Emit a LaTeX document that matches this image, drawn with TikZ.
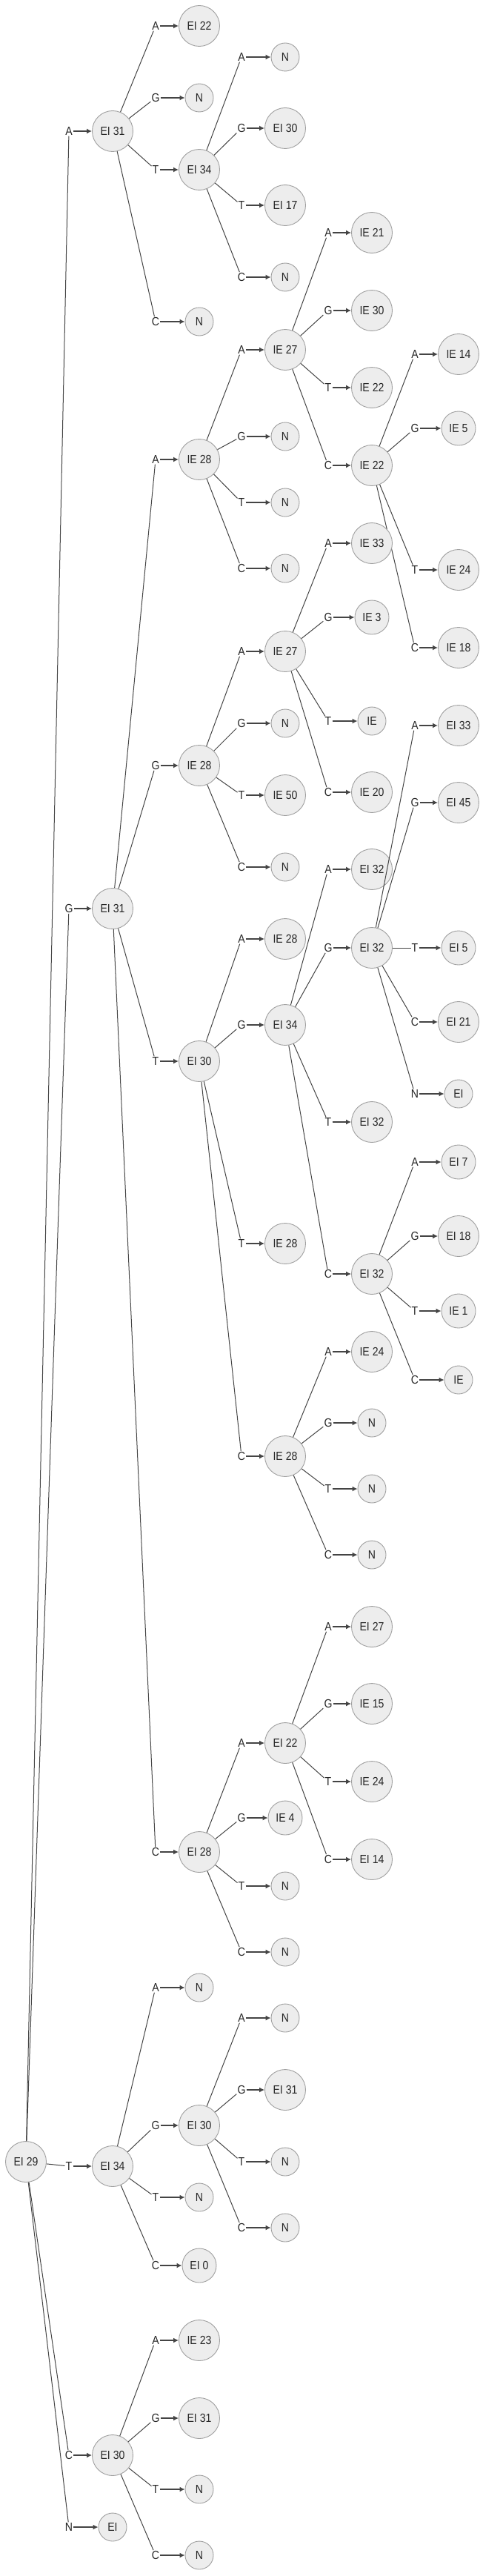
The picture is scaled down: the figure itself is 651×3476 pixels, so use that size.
\documentclass[tikz,border=0pt]{standalone}
\usepackage{fontspec}
\setmainfont{Liberation Sans}[FakeStretch=0.88]
\usetikzlibrary{arrows.meta}
\definecolor{nodefill}{HTML}{EDEDED}
\definecolor{nodeline}{HTML}{A0A0A0}
\definecolor{edgecol}{HTML}{444444}
\newcommand{\lvlx}[1]{\ifcase#1 0\or93\or210\or326\or443\or560\fi}
\newcommand{\lvcx}[1]{\ifcase#1 0\or152\or269\or385\or502\or619\fi}
% \br{parent}{name}{letter}{level}{y}{style}{text}
\newcommand{\br}[7]{%
  \edef\tmpLX{\lvlx{#4}}\edef\tmpCX{\lvcx{#4}}%
  \node[lab] (l#2) at (\tmpLX,#5) {#3};
  \node[#6] (#2) at (\tmpCX,#5) {#7};
  \draw[ln] (#1) -- (l#2);
  \draw[arr] (l#2) -- (#2);
}
\begin{document}
\begin{tikzpicture}[x=1pt,y=-1pt,
  font=\fontsize{16}{18}\selectfont,
  big/.style={circle,draw=nodeline,fill=nodefill,line width=0.9pt,inner sep=0pt,minimum size=55pt,text=black!85},
  mid/.style={big,minimum size=46pt},
  sml/.style={big,minimum size=38pt},
  lab/.style={inner sep=1pt,text=black!85},
  ln/.style={draw=edgecol,line width=1pt},
  arr/.style={draw=edgecol,line width=1.4pt,-{Latex[length=7pt,width=7pt]}}]
\useasboundingbox (0,0) rectangle (651,3476);
\node[big] (n) at (35,2917) {EI 29};
% level 1
\br{n}{nA}{A}{1}{177}{big}{EI 31}
\br{n}{nG}{G}{1}{1226}{big}{EI 31}
\br{n}{nT}{T}{1}{2923}{big}{EI 34}
\br{n}{nC}{C}{1}{3313}{big}{EI 30}
\br{n}{nN}{N}{1}{3410}{sml}{EI}
% under nA
\br{nA}{nAA}{A}{2}{35}{big}{EI 22}
\br{nA}{nAG}{G}{2}{132}{sml}{N}
\br{nA}{nAT}{T}{2}{229}{big}{EI 34}
\br{nA}{nAC}{C}{2}{434}{sml}{N}
\br{nAT}{nATA}{A}{3}{77}{sml}{N}
\br{nAT}{nATG}{G}{3}{173}{big}{EI 30}
\br{nAT}{nATT}{T}{3}{277}{big}{EI 17}
\br{nAT}{nATC}{C}{3}{374}{sml}{N}
% under nG
\br{nG}{nGA}{A}{2}{620}{big}{IE 28}
\br{nG}{nGG}{G}{2}{1033}{big}{IE 28}
\br{nG}{nGT}{T}{2}{1432}{big}{EI 30}
\br{nG}{nGC}{C}{2}{2499}{big}{EI 28}
% under nGA
\br{nGA}{nGAA}{A}{3}{472}{big}{IE 27}
\br{nGA}{nGAG}{G}{3}{589}{sml}{N}
\br{nGA}{nGAT}{T}{3}{678}{sml}{N}
\br{nGA}{nGAC}{C}{3}{767}{sml}{N}
\br{nGAA}{nGAAA}{A}{4}{314}{big}{IE 21}
\br{nGAA}{nGAAG}{G}{4}{419}{big}{IE 30}
\br{nGAA}{nGAAT}{T}{4}{523}{big}{IE 22}
\br{nGAA}{nGAAC}{C}{4}{628}{big}{IE 22}
\br{nGAAC}{nGAACA}{A}{5}{478}{big}{IE 14}
\br{nGAAC}{nGAACG}{G}{5}{578}{mid}{IE 5}
\br{nGAAC}{nGAACT}{T}{5}{769}{big}{IE 24}
\br{nGAAC}{nGAACC}{C}{5}{874}{big}{IE 18}
% under nGG
\br{nGG}{nGGA}{A}{3}{879}{big}{IE 27}
\br{nGG}{nGGG}{G}{3}{976}{sml}{N}
\br{nGG}{nGGT}{T}{3}{1073}{big}{IE 50}
\br{nGG}{nGGC}{C}{3}{1170}{sml}{N}
\br{nGGA}{nGGAA}{A}{4}{733}{big}{IE 33}
\br{nGGA}{nGGAG}{G}{4}{833}{mid}{IE 3}
\br{nGGA}{nGGAT}{T}{4}{973}{sml}{IE}
\br{nGGA}{nGGAC}{C}{4}{1069}{big}{IE 20}
% under nGT
\br{nGT}{nGTA}{A}{3}{1267}{big}{IE 28}
\br{nGT}{nGTG}{G}{3}{1383}{big}{EI 34}
\br{nGT}{nGTT}{T}{3}{1678}{big}{IE 28}
\br{nGT}{nGTC}{C}{3}{1965}{big}{IE 28}
\br{nGTG}{nGTGA}{A}{4}{1173}{big}{EI 32}
\br{nGTG}{nGTGG}{G}{4}{1279}{big}{EI 32}
\br{nGTG}{nGTGT}{T}{4}{1514}{big}{EI 32}
\br{nGTG}{nGTGC}{C}{4}{1719}{big}{EI 32}
\br{nGTGG}{nGTGGA}{A}{5}{979}{big}{EI 33}
\br{nGTGG}{nGTGGG}{G}{5}{1083}{big}{EI 45}
\br{nGTGG}{nGTGGT}{T}{5}{1279}{mid}{EI 5}
\br{nGTGG}{nGTGGC}{C}{5}{1379}{big}{EI 21}
\br{nGTGG}{nGTGGN}{N}{5}{1476}{sml}{EI}
\br{nGTGC}{nGTGCA}{A}{5}{1568}{mid}{EI 7}
\br{nGTGC}{nGTGCG}{G}{5}{1668}{big}{EI 18}
\br{nGTGC}{nGTGCT}{T}{5}{1769}{mid}{IE 1}
\br{nGTGC}{nGTGCC}{C}{5}{1862}{sml}{IE}
\br{nGTC}{nGTCA}{A}{4}{1824}{big}{IE 24}
\br{nGTC}{nGTCG}{G}{4}{1920}{sml}{N}
\br{nGTC}{nGTCT}{T}{4}{2009}{sml}{N}
\br{nGTC}{nGTCC}{C}{4}{2098}{sml}{N}
% under nGC
\br{nGC}{nGCA}{A}{3}{2352}{big}{EI 22}
\br{nGC}{nGCG}{G}{3}{2453}{mid}{IE 4}
\br{nGC}{nGCT}{T}{3}{2545}{sml}{N}
\br{nGC}{nGCC}{C}{3}{2634}{sml}{N}
\br{nGCA}{nGCAA}{A}{4}{2195}{big}{EI 27}
\br{nGCA}{nGCAG}{G}{4}{2299}{big}{IE 15}
\br{nGCA}{nGCAT}{T}{4}{2404}{big}{IE 24}
\br{nGCA}{nGCAC}{C}{4}{2509}{big}{EI 14}
% under nT
\br{nT}{nTA}{A}{2}{2682}{sml}{N}
\br{nT}{nTG}{G}{2}{2868}{big}{EI 30}
\br{nT}{nTT}{T}{2}{2965}{sml}{N}
\br{nT}{nTC}{C}{2}{3057}{mid}{EI 0}
\br{nTG}{nTGA}{A}{3}{2723}{sml}{N}
\br{nTG}{nTGG}{G}{3}{2820}{big}{EI 31}
\br{nTG}{nTGT}{T}{3}{2917}{sml}{N}
\br{nTG}{nTGC}{C}{3}{3006}{sml}{N}
% under nC
\br{nC}{nCA}{A}{2}{3158}{big}{IE 23}
\br{nC}{nCG}{G}{2}{3263}{big}{EI 31}
\br{nC}{nCT}{T}{2}{3359}{sml}{N}
\br{nC}{nCC}{C}{2}{3448}{sml}{N}
\end{tikzpicture}
\end{document}
